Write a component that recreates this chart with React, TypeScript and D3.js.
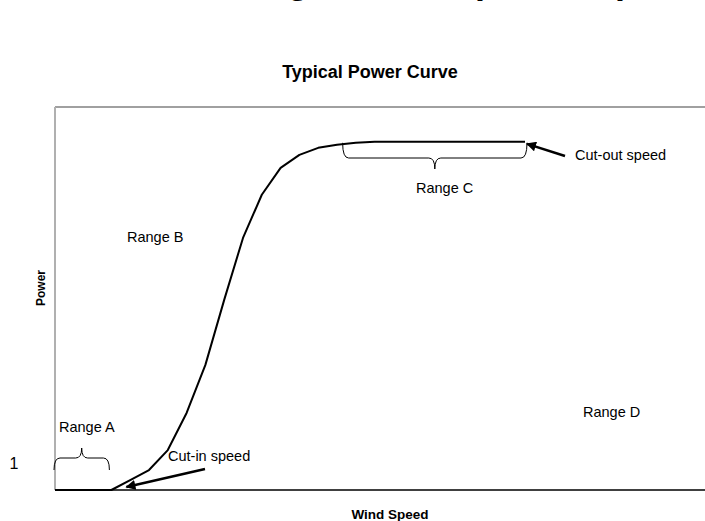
import React from "react";
import * as d3 from "d3";

// typical wind turbine power curve (kW vs m/s)
const windSpeed = [0, 1, 2, 3, 4, 5, 6, 7, 8, 9, 10, 11, 12, 13, 14, 15, 16, 17, 18, 19, 20, 21, 22, 23, 24, 25];
const power = [0, 0, 0, 0, 43, 86, 172, 332, 539, 819, 1086, 1272, 1388, 1444, 1474, 1487, 1496, 1500, 1500, 1500, 1500, 1500, 1500, 1500, 1500, 1500];

const rangeLabels = ["Range A", "Range B", "Range C", "Range D"];
const cutIn = 3;
const cutOut = 25;

const width = 705;
const height = 521;
const margin = { top: 107, left: 55, bottom: 31 };

const font = "Arial, 'Liberation Sans', sans-serif";

// horizontal curly brace; tip goes toward yTip
function brace(x1: number, x2: number, yEnd: number, yMid: number, yTip: number) {
  const xm = (x1 + x2) / 2;
  const r = 6;
  return `M${x1},${yEnd} Q${x1},${yMid} ${x1 + r},${yMid} L${xm - r},${yMid} Q${xm},${yMid} ${xm},${yTip} Q${xm},${yMid} ${xm + r},${yMid} L${x2 - r},${yMid} Q${x2},${yMid} ${x2},${yEnd}`;
}

export default function App() {
  const x = d3.scaleLinear().domain([0, 25]).range([margin.left, 525]);
  const y = d3.scaleLinear().domain([0, 1650]).range([height - margin.bottom, margin.top]);

  const line = d3
    .line<number>()
    .x((_, i) => x(windSpeed[i]))
    .y(d => y(d));

  const y0 = y(0);
  const yTop = y(1500);

  return (
    <svg width={width} height={height} style={{ position: "absolute", left: 0, top: 0, background: "#fff" }}>
      <defs>
        <marker id="arr" viewBox="0 0 10 10" refX="9" refY="5" markerWidth="4.2" markerHeight="4" orient="auto" markerUnits="strokeWidth">
          <path d="M0,0 L10,5 L0,10 Z" fill="#000" />
        </marker>
      </defs>

      {/* cropped heading at the very top of the page, only descenders show */}
      <text x={-18} y={-7.2} fontFamily={font} fontWeight="bold" fontSize={36}>
        Wind Turbine Range and Output vs Speed
      </text>

      <text x={370} y={78} textAnchor="middle" fontFamily={font} fontWeight="bold" fontSize={18}>
        Typical Power Curve
      </text>

      {/* plot frame */}
      <line x1={margin.left} x2={width} y1={margin.top} y2={margin.top} stroke="#808080" strokeWidth={1.5} />
      <line x1={margin.left} x2={margin.left} y1={margin.top} y2={y0} stroke="#b0b0b0" strokeWidth={2} />
      <line x1={margin.left} x2={width} y1={y0} y2={y0} stroke="#000" strokeWidth={1.5} />

      <text x={14} y={469} textAnchor="middle" fontFamily={font} fontSize={16}>1</text>

      <path d={line(power) || ""} fill="none" stroke="#000" strokeWidth={2} strokeLinejoin="round" />

      {/* range A */}
      <path d={brace(x(0) - 1, x(3) - 2, 470, 458, 448)} fill="none" stroke="#000" strokeWidth={1} />
      <text x={59} y={432} fontFamily={font} fontSize={14.5}>{rangeLabels[0]}</text>

      <text x={127} y={242} fontFamily={font} fontSize={14.5}>{rangeLabels[1]}</text>

      {/* range C */}
      <path d={brace(x(15.3), x(cutOut) + 2, yTop + 1, 158, 169)} fill="none" stroke="#000" strokeWidth={1} />
      <text x={416} y={193} fontFamily={font} fontSize={14.5}>{rangeLabels[2]}</text>

      <text x={583} y={417} fontFamily={font} fontSize={14.5}>{rangeLabels[3]}</text>

      {/* cut-in */}
      <line x1={205} y1={469} x2={x(cutIn) + 15} y2={y0 - 3} stroke="#000" strokeWidth={2.5} markerEnd="url(#arr)" />
      <text x={168} y={461} fontFamily={font} fontSize={14.5}>Cut-in speed</text>

      {/* cut-out */}
      <line x1={565} y1={156} x2={x(cutOut) + 2} y2={yTop + 2} stroke="#000" strokeWidth={2.5} markerEnd="url(#arr)" />
      <text x={575} y={160} fontFamily={font} fontSize={14.5}>Cut-out speed</text>

      <text x={390} y={519} textAnchor="middle" fontFamily={font} fontWeight="bold" fontSize={13.5}>Wind Speed</text>
      <text transform="translate(45,288) rotate(-90)" textAnchor="middle" fontFamily={font} fontWeight="bold" fontSize={12}>Power</text>
    </svg>
  );
}
